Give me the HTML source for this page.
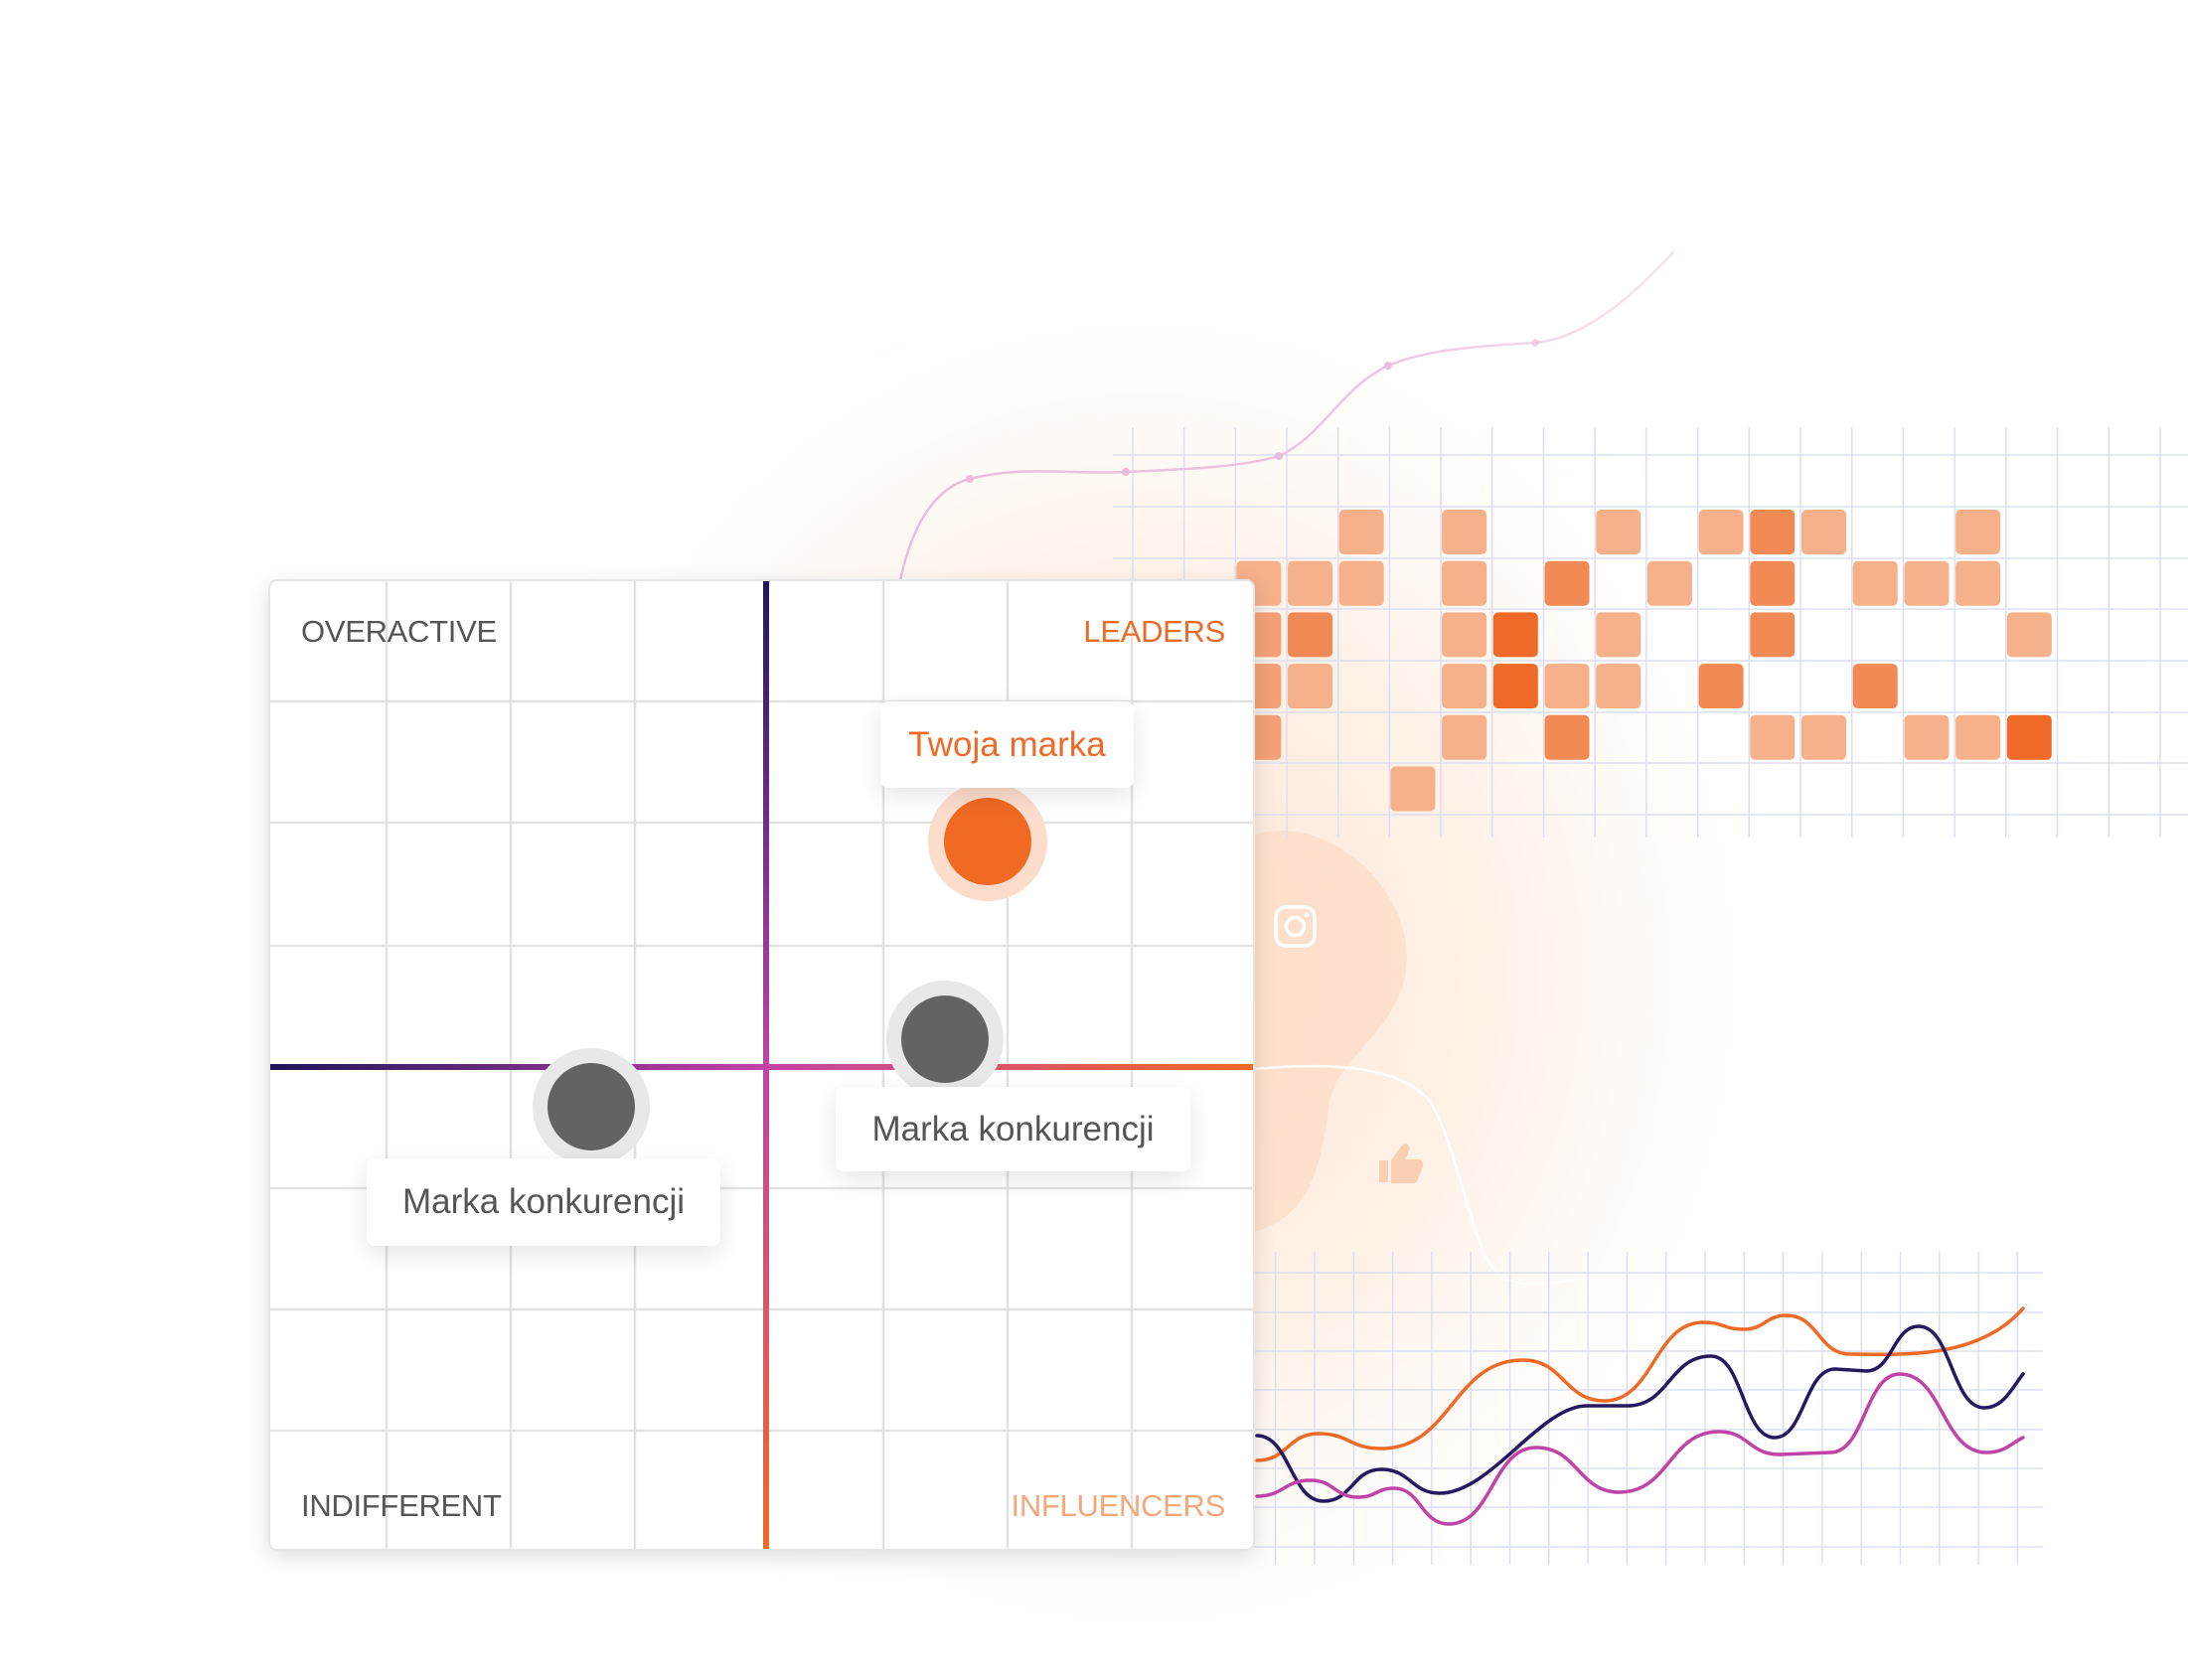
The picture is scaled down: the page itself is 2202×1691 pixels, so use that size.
<!DOCTYPE html>
<html><head><meta charset="utf-8"><style>
html,body{margin:0;padding:0;background:#fff;}
body{width:2202px;height:1691px;position:relative;overflow:hidden;font-family:"Liberation Sans",sans-serif;}
svg{position:absolute;left:0;top:0;}
.lbl{position:absolute;font-size:31px;letter-spacing:-0.3px;}
.box{position:absolute;background:#fff;border-radius:8px;box-shadow:0 8px 24px rgba(0,0,0,0.10);display:flex;align-items:center;justify-content:center;font-size:35px;color:#555;}
</style></head><body>
<svg width="2202" height="1691" viewBox="0 0 2202 1691">
<defs>
<radialGradient id="glow" cx="1150" cy="980" r="720" gradientUnits="userSpaceOnUse" gradientTransform="translate(1150 980) scale(1 1.1) translate(-1150 -980)">
<stop offset="0" stop-color="#fde6d4"/><stop offset="0.5" stop-color="#fef2e8"/><stop offset="1" stop-color="#ffffff" stop-opacity="0"/>
</radialGradient>
<linearGradient id="vax" x1="0" y1="584" x2="0" y2="1560" gradientUnits="userSpaceOnUse">
<stop offset="0" stop-color="#22185a"/><stop offset="0.5" stop-color="#c044a8"/><stop offset="1" stop-color="#ef6a26"/>
</linearGradient>
<linearGradient id="hax" x1="271" y1="0" x2="1262" y2="0" gradientUnits="userSpaceOnUse">
<stop offset="0" stop-color="#1f1656"/><stop offset="0.5" stop-color="#c044a8"/><stop offset="1" stop-color="#ef6a26"/>
</linearGradient>
<linearGradient id="pk" x1="906" y1="0" x2="1685" y2="0" gradientUnits="userSpaceOnUse">
<stop offset="0" stop-color="#e9bddb"/><stop offset="0.6" stop-color="#ecc6df"/><stop offset="1" stop-color="#f6e6f0"/>
</linearGradient>
<filter id="sh" x="-10%" y="-10%" width="120%" height="120%"><feDropShadow dx="0" dy="6" stdDeviation="10" flood-opacity="0.12"/></filter>
</defs>
<rect x="0" y="0" width="2202" height="1691" fill="url(#glow)"/>
<path d="M1262 840 C1330 820 1405 880 1415 950 C1425 1030 1345 1060 1338 1110 C1330 1170 1320 1225 1262 1240 Z" fill="#fcd9c2" opacity="0.6"/>
<g stroke="#dcdff2" stroke-width="1.5">
<line x1="1140" y1="430" x2="1140" y2="843"/><line x1="1191.6" y1="430" x2="1191.6" y2="843"/><line x1="1243.3" y1="430" x2="1243.3" y2="843"/><line x1="1295" y1="430" x2="1295" y2="843"/><line x1="1346.7" y1="430" x2="1346.7" y2="843"/><line x1="1398.4" y1="430" x2="1398.4" y2="843"/><line x1="1450.1" y1="430" x2="1450.1" y2="843"/><line x1="1501.8" y1="430" x2="1501.8" y2="843"/><line x1="1553.5" y1="430" x2="1553.5" y2="843"/><line x1="1605.2" y1="430" x2="1605.2" y2="843"/><line x1="1656.9" y1="430" x2="1656.9" y2="843"/><line x1="1708.6" y1="430" x2="1708.6" y2="843"/><line x1="1760.3" y1="430" x2="1760.3" y2="843"/><line x1="1812" y1="430" x2="1812" y2="843"/><line x1="1863.7" y1="430" x2="1863.7" y2="843"/><line x1="1915.4" y1="430" x2="1915.4" y2="843"/><line x1="1967.1" y1="430" x2="1967.1" y2="843"/><line x1="2018.8" y1="430" x2="2018.8" y2="843"/><line x1="2070.5" y1="430" x2="2070.5" y2="843"/><line x1="2122.2" y1="430" x2="2122.2" y2="843"/><line x1="2173.9" y1="430" x2="2173.9" y2="843"/>
<line x1="1120" y1="458" x2="2202" y2="458"/><line x1="1120" y1="510" x2="2202" y2="510"/><line x1="1120" y1="562" x2="2202" y2="562"/><line x1="1120" y1="613" x2="2202" y2="613"/><line x1="1120" y1="665" x2="2202" y2="665"/><line x1="1120" y1="717" x2="2202" y2="717"/><line x1="1120" y1="768" x2="2202" y2="768"/><line x1="1120" y1="820" x2="2202" y2="820"/>
</g>
<g>
<rect x="1347.7" y="513" width="45" height="45" rx="5" fill="#f6b08a"/>
<rect x="1451.1" y="513" width="45" height="45" rx="5" fill="#f6b08a"/>
<rect x="1606.2" y="513" width="45" height="45" rx="5" fill="#f6b08a"/>
<rect x="1709.6" y="513" width="45" height="45" rx="5" fill="#f6b08a"/>
<rect x="1761.3" y="513" width="45" height="45" rx="5" fill="#f28a55"/>
<rect x="1813" y="513" width="45" height="45" rx="5" fill="#f6b08a"/>
<rect x="1968.1" y="513" width="45" height="45" rx="5" fill="#f6b08a"/>
<rect x="1244.3" y="564.7" width="45" height="45" rx="5" fill="#f6b08a"/>
<rect x="1296" y="564.7" width="45" height="45" rx="5" fill="#f6b08a"/>
<rect x="1347.7" y="564.7" width="45" height="45" rx="5" fill="#f6b08a"/>
<rect x="1451.1" y="564.7" width="45" height="45" rx="5" fill="#f6b08a"/>
<rect x="1554.5" y="564.7" width="45" height="45" rx="5" fill="#f28a55"/>
<rect x="1657.9" y="564.7" width="45" height="45" rx="5" fill="#f6b08a"/>
<rect x="1761.3" y="564.7" width="45" height="45" rx="5" fill="#f28a55"/>
<rect x="1864.7" y="564.7" width="45" height="45" rx="5" fill="#f6b08a"/>
<rect x="1916.4" y="564.7" width="45" height="45" rx="5" fill="#f6b08a"/>
<rect x="1968.1" y="564.7" width="45" height="45" rx="5" fill="#f6b08a"/>
<rect x="1244.3" y="616.4" width="45" height="45" rx="5" fill="#f4a077"/>
<rect x="1296" y="616.4" width="45" height="45" rx="5" fill="#f28a55"/>
<rect x="1451.1" y="616.4" width="45" height="45" rx="5" fill="#f6b08a"/>
<rect x="1502.8" y="616.4" width="45" height="45" rx="5" fill="#ef6a26"/>
<rect x="1606.2" y="616.4" width="45" height="45" rx="5" fill="#f6b08a"/>
<rect x="1761.3" y="616.4" width="45" height="45" rx="5" fill="#f28a55"/>
<rect x="2019.8" y="616.4" width="45" height="45" rx="5" fill="#f6b08a"/>
<rect x="1244.3" y="668.1" width="45" height="45" rx="5" fill="#f4a077"/>
<rect x="1296" y="668.1" width="45" height="45" rx="5" fill="#f6b08a"/>
<rect x="1451.1" y="668.1" width="45" height="45" rx="5" fill="#f6b08a"/>
<rect x="1502.8" y="668.1" width="45" height="45" rx="5" fill="#ef6a26"/>
<rect x="1554.5" y="668.1" width="45" height="45" rx="5" fill="#f6b08a"/>
<rect x="1606.2" y="668.1" width="45" height="45" rx="5" fill="#f6b08a"/>
<rect x="1709.6" y="668.1" width="45" height="45" rx="5" fill="#f28a55"/>
<rect x="1864.7" y="668.1" width="45" height="45" rx="5" fill="#f28a55"/>
<rect x="1244.3" y="719.8" width="45" height="45" rx="5" fill="#f4a077"/>
<rect x="1451.1" y="719.8" width="45" height="45" rx="5" fill="#f6b08a"/>
<rect x="1554.5" y="719.8" width="45" height="45" rx="5" fill="#f28a55"/>
<rect x="1761.3" y="719.8" width="45" height="45" rx="5" fill="#f6b08a"/>
<rect x="1813" y="719.8" width="45" height="45" rx="5" fill="#f6b08a"/>
<rect x="1916.4" y="719.8" width="45" height="45" rx="5" fill="#f6b08a"/>
<rect x="1968.1" y="719.8" width="45" height="45" rx="5" fill="#f6b08a"/>
<rect x="2019.8" y="719.8" width="45" height="45" rx="5" fill="#ef6a26"/>
<rect x="1399.4" y="771.5" width="45" height="45" rx="5" fill="#f6b08a"/>
</g>
<path d="M906 584 C920 520 945 490 976 482 C1030 468 1080 478 1133 475 C1200 472 1250 470 1287 459 C1330 440 1350 390 1397 368 C1440 350 1500 348 1545 345 C1600 340 1650 290 1685 253" fill="none" stroke="url(#pk)" stroke-width="2.5"/>
<g fill="#e9bddb"><circle cx="976" cy="482" r="4"/><circle cx="1133" cy="475" r="4"/><circle cx="1287" cy="459" r="4"/><circle cx="1397" cy="368" r="4"/><circle cx="1545" cy="345" r="4" opacity="0.6"/></g>
<path d="M1262 1076 C1330 1070 1410 1070 1440 1110 C1470 1160 1480 1260 1510 1285 C1540 1300 1570 1290 1600 1285" fill="none" stroke="#ffffff" stroke-width="2.5" opacity="0.9"/>
<g fill="none" stroke="#ffffff" stroke-width="3.5"><rect x="1284" y="913" width="39" height="39" rx="10"/><circle cx="1303.5" cy="932.5" r="9"/></g>
<circle cx="1315" cy="921" r="2.5" fill="#fff"/>
<path d="M1388 1168 h9 v22 h-9 z M1400 1168 l10 -14 c4 -5 10 -2 8 4 l-3 9 h12 c4 0 6 4 5 7 l-5 13 c-1 3 -3 4 -6 4 h-21 z" fill="#fbcfb3"/>
<g stroke="#dcdff2" stroke-width="1.5">
<line x1="1283.7" y1="1260" x2="1283.7" y2="1575"/><line x1="1323" y1="1260" x2="1323" y2="1575"/><line x1="1362.3" y1="1260" x2="1362.3" y2="1575"/><line x1="1401.6" y1="1260" x2="1401.6" y2="1575"/><line x1="1440.9" y1="1260" x2="1440.9" y2="1575"/><line x1="1480.2" y1="1260" x2="1480.2" y2="1575"/><line x1="1519.5" y1="1260" x2="1519.5" y2="1575"/><line x1="1558.8" y1="1260" x2="1558.8" y2="1575"/><line x1="1598.1" y1="1260" x2="1598.1" y2="1575"/><line x1="1637.4" y1="1260" x2="1637.4" y2="1575"/><line x1="1676.7" y1="1260" x2="1676.7" y2="1575"/><line x1="1716" y1="1260" x2="1716" y2="1575"/><line x1="1755.3" y1="1260" x2="1755.3" y2="1575"/><line x1="1794.6" y1="1260" x2="1794.6" y2="1575"/><line x1="1833.9" y1="1260" x2="1833.9" y2="1575"/><line x1="1873.2" y1="1260" x2="1873.2" y2="1575"/><line x1="1912.5" y1="1260" x2="1912.5" y2="1575"/><line x1="1951.8" y1="1260" x2="1951.8" y2="1575"/><line x1="1991.1" y1="1260" x2="1991.1" y2="1575"/><line x1="2030.4" y1="1260" x2="2030.4" y2="1575"/>
<line x1="1262" y1="1281" x2="2056" y2="1281"/><line x1="1262" y1="1321" x2="2056" y2="1321"/><line x1="1262" y1="1360" x2="2056" y2="1360"/><line x1="1262" y1="1399" x2="2056" y2="1399"/><line x1="1262" y1="1439" x2="2056" y2="1439"/><line x1="1262" y1="1478" x2="2056" y2="1478"/><line x1="1262" y1="1517" x2="2056" y2="1517"/><line x1="1262" y1="1557" x2="2056" y2="1557"/>
</g>
<g fill="none" stroke-width="3.5" stroke-linecap="round">
<path stroke="#ef6a26" d="M1265 1470 C1296 1470 1296 1443 1327 1443 C1358 1443 1358 1458 1390 1458 C1461 1458 1462 1369 1533 1369 C1574 1369 1574 1410 1615 1410 C1664 1410 1665 1331 1714 1331 C1734 1331 1735 1338 1755 1338 C1776 1338 1777 1324 1798 1324 C1830 1324 1830 1363 1862 1363 C1908 1363 1990 1370 2036 1317"/>
<path stroke="#26195f" d="M1265 1445 C1298 1445 1299 1511 1332 1511 C1361 1511 1361 1479 1390 1479 C1420 1479 1420 1503 1449 1503 C1500 1503 1550 1415 1597 1415 L1638 1415 C1680 1415 1680 1365 1722 1365 C1754 1365 1754 1447 1786 1447 C1816 1447 1816 1378 1847 1378 L1878 1380 C1905 1380 1905 1335 1931 1335 C1964 1335 1964 1417 1997 1417 C2017 1417 2026 1395 2036 1383"/>
<path stroke="#c044a8" d="M1265 1506 C1292 1506 1292 1490 1319 1490 C1343 1490 1343 1507 1367 1507 C1385 1507 1385 1498 1403 1498 C1430 1498 1430 1534 1458 1534 C1502 1534 1502 1457 1546 1457 C1588 1457 1588 1502 1630 1502 C1680 1502 1680 1441 1730 1441 C1760 1441 1760 1464 1791 1464 L1842 1462 C1877 1462 1877 1383 1912 1383 C1955 1383 1955 1462 1999 1462 C2018 1462 2025 1452 2036 1447"/>
</g>
<rect x="271" y="584" width="991" height="976" rx="8" fill="#fff" stroke="#e6e6e6" stroke-width="2" filter="url(#sh)"/>
<g stroke="#e2e2e2" stroke-width="2.5">
<line x1="389" y1="585" x2="389" y2="1559"/><line x1="514" y1="585" x2="514" y2="1559"/><line x1="639" y1="585" x2="639" y2="1559"/><line x1="889" y1="585" x2="889" y2="1559"/><line x1="1014" y1="585" x2="1014" y2="1559"/><line x1="1139" y1="585" x2="1139" y2="1559"/>
<line x1="272" y1="706" x2="1261" y2="706"/><line x1="272" y1="828" x2="1261" y2="828"/><line x1="272" y1="952" x2="1261" y2="952"/><line x1="272" y1="1196" x2="1261" y2="1196"/><line x1="272" y1="1318" x2="1261" y2="1318"/><line x1="272" y1="1440" x2="1261" y2="1440"/>
</g>
<line x1="272" y1="1074" x2="1261" y2="1074" stroke="url(#hax)" stroke-width="6"/>
<line x1="771" y1="585" x2="771" y2="1559" stroke="url(#vax)" stroke-width="6"/>
<circle cx="994" cy="847" r="60" fill="#fcdccb"/>
<circle cx="994" cy="847" r="44" fill="#f06a23"/>
<circle cx="951" cy="1046" r="59" fill="#e8e8e8"/>
<circle cx="951" cy="1046" r="44" fill="#636363"/>
<circle cx="595" cy="1114" r="59" fill="#e8e8e8"/>
<circle cx="595" cy="1114" r="44" fill="#636363"/>
</svg>
<div class="lbl" style="left:303px;top:618px;color:#555;">OVERACTIVE</div>
<div class="lbl" style="right:969px;top:618px;color:#ef6a26;">LEADERS</div>
<div class="lbl" style="left:303px;top:1498px;color:#555;">INDIFFERENT</div>
<div class="lbl" style="right:969px;top:1498px;color:#f6a77a;">INFLUENCERS</div>
<div class="box" style="left:886px;top:706px;width:255px;height:87px;color:#ef6a26;">Twoja marka</div>
<div class="box" style="left:841px;top:1094px;width:357px;height:85px;">Marka konkurencji</div>
<div class="box" style="left:369px;top:1166px;width:356px;height:88px;">Marka konkurencji</div>
</body></html>
